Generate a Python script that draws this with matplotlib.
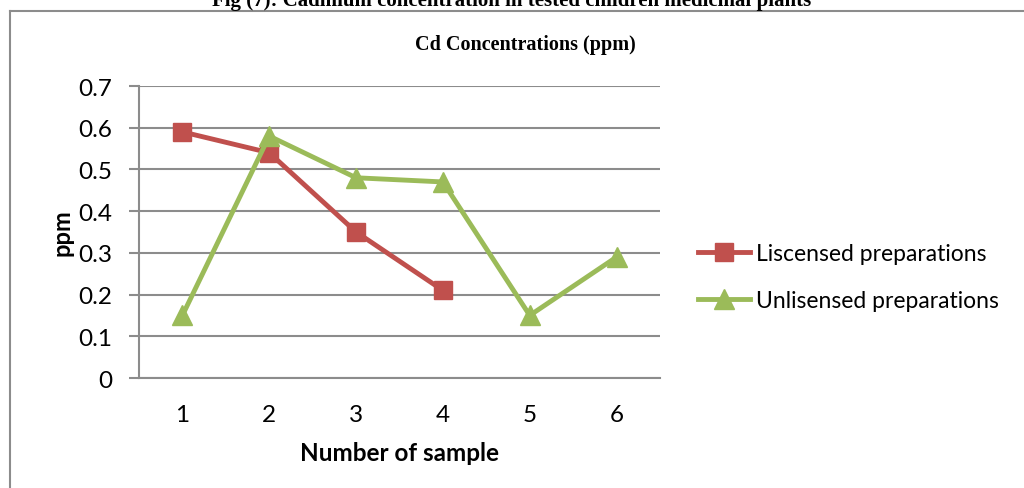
import matplotlib
matplotlib.use("Agg")
import matplotlib.pyplot as plt
from matplotlib.lines import Line2D

samples = [1, 2, 3, 4, 5, 6]
licensed_x = [1, 2, 3, 4]
licensed = [0.59, 0.54, 0.35, 0.21]
unlicensed = [0.15, 0.58, 0.48, 0.47, 0.15, 0.29]
yticks = [0, 0.1, 0.2, 0.3, 0.4, 0.5, 0.6, 0.7]
ytick_labels = ["0", "0.1", "0.2", "0.3", "0.4", "0.5", "0.6", "0.7"]
series_names = ["Liscensed preparations", "Unlisensed preparations"]

RED = "#C0504D"
GREEN = "#9BBB59"
GRID = "#8C8C8C"
SANS = ["Lato", "DejaVu Sans"]
SERIF = ["Liberation Serif", "DejaVu Serif"]

W, H = 1024, 489
fig = plt.figure(figsize=(W / 100, H / 100), dpi=100)

# outer frame lines
fig.add_artist(Line2D([10 / W, 10 / W], [0, 1 - 11.5 / H], transform=fig.transFigure, color="#8C8C8C", lw=1.5))
fig.add_artist(Line2D([10 / W, 1], [1 - 11.5 / H, 1 - 11.5 / H], transform=fig.transFigure, color="#8C8C8C", lw=1.5))

fig.text(0.5, 1 - 1 / H, "Fig (7): Cadmium concentration in tested children medicinal plants",
         ha="center", va="center", fontsize=15, fontweight="bold", family=SERIF)
fig.text(525 / W, 1 - 45 / H, "Cd Concentrations (ppm)", ha="center", va="center",
         fontsize=14.5, fontweight="bold", family=SERIF)

ax = fig.add_axes([139 / W, 1 - 379 / H, (660 - 139) / W, (379 - 87) / H])
ax.set_xlim(0.5, 6.5)
ax.set_ylim(0, 0.7)
ax.set_yticks(yticks)
ax.set_yticklabels(ytick_labels, family=SANS, fontsize=17.5)
ax.set_xticks(samples)
ax.set_xticklabels([str(s) for s in samples], family=SANS, fontsize=17.5)
ax.tick_params(axis="x", length=0, pad=19)
ax.tick_params(axis="y", length=7, color=GRID, width=1.5, pad=12)
ax.grid(axis="y", color=GRID, lw=1.5)
ax.set_axisbelow(True)
for s in ["top", "right"]:
    ax.spines[s].set_visible(False)
ax.spines["left"].set_color(GRID)
ax.spines["bottom"].set_color(GRID)
ax.spines["left"].set_linewidth(1.5)
ax.spines["bottom"].set_linewidth(1.5)

l1, = ax.plot(licensed_x, licensed, color=RED, lw=3.5, marker="s", markersize=13,
              markerfacecolor=RED, markeredgecolor=RED, label=series_names[0], clip_on=False)
l2, = ax.plot(samples, unlicensed, color=GREEN, lw=3.5, marker="^", markersize=14,
              markerfacecolor=GREEN, markeredgecolor=GREEN, label=series_names[1], clip_on=False)

ax.set_xlabel("Number of sample", family=SANS, fontsize=17.5, fontweight="bold", labelpad=11)
ax.set_ylabel("ppm", family=SANS, fontsize=17, fontweight="bold", labelpad=4)

leg = fig.legend(handles=[l1, l2], loc="center left", bbox_to_anchor=(677 / W, 1 - 278 / H),
                 frameon=False, prop={"family": SANS, "size": 16.5}, handlelength=2.3,
                 handletextpad=0.25, labelspacing=1.15)

fig.savefig("out.png", dpi=100)
